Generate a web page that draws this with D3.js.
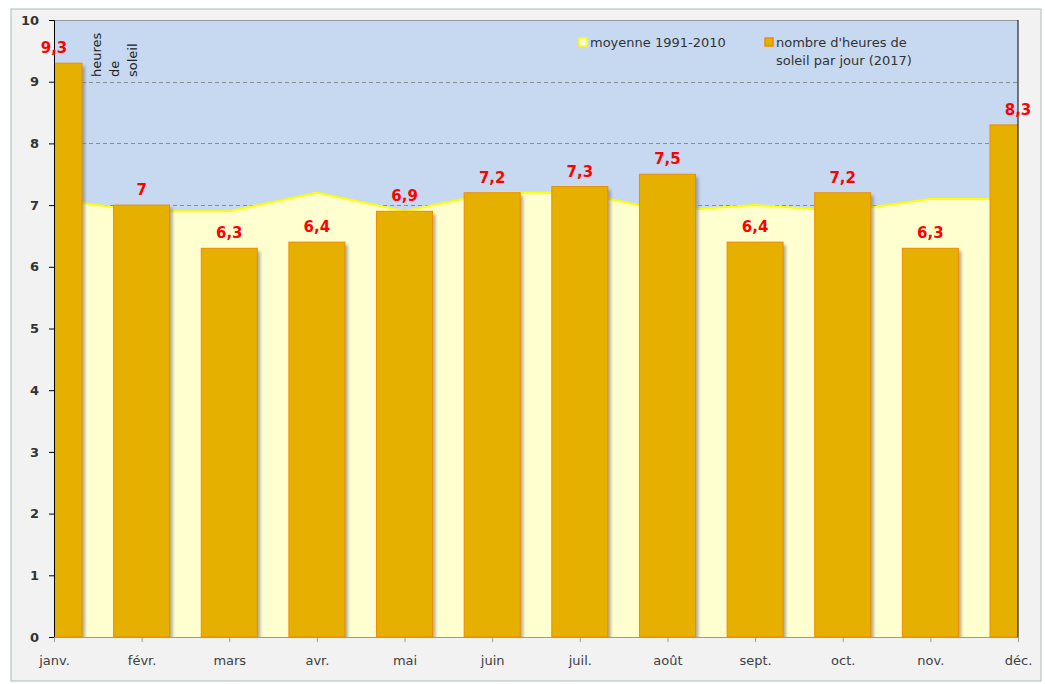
<!DOCTYPE html>
<html lang="fr">
<head>
<meta charset="utf-8">
<title>Ensoleillement 2017</title>
<script src="https://cdn.jsdelivr.net/npm/d3@7"></script>
<style>
  body { margin: 0; background: #fff; font-family: "DejaVu Sans", Verdana, sans-serif; }
</style>
</head>
<body>
<svg id="chart" width="1045" height="684"></svg>
<script>
// Données
var mois = ["janv.", "févr.", "mars", "avr.", "mai", "juin", "juil.", "août", "sept.", "oct.", "nov.", "déc."];
var heures2017 = [9.3, 7, 6.3, 6.4, 6.9, 7.2, 7.3, 7.5, 6.4, 7.2, 6.3, 8.3];
var moyenne = [7.1, 6.9, 6.9, 7.2, 6.9, 7.2, 7.2, 6.9, 7.0, 6.9, 7.1, 7.1];
var yTicks = [0, 1, 2, 3, 4, 5, 6, 7, 8, 9, 10];

var svg = d3.select("#chart");

// cadre extérieur
svg.append("rect")
  .attr("x", 11).attr("y", 9).attr("width", 1030).attr("height", 672)
  .attr("fill", "#f2f2f2").attr("stroke", "#a9bcbc").attr("stroke-width", 1);

var pLeft = 54, pRight = 1018, pTop = 20, pBottom = 637;

var x = d3.scalePoint().domain(mois).range([pLeft, pRight]);
var y = d3.scaleLinear().domain([0, 10]).range([pBottom, pTop]);
var barW = 56;

var defs = svg.append("defs");
defs.append("clipPath").attr("id", "plot")
  .append("rect").attr("x", pLeft).attr("y", pTop).attr("width", pRight - pLeft).attr("height", pBottom - pTop);
var blur = defs.append("filter").attr("id", "ombre").attr("x", "-20%").attr("y", "-20%").attr("width", "140%").attr("height", "140%");
blur.append("feGaussianBlur").attr("stdDeviation", 1.6);

// fond de la zone de traçage
svg.append("rect")
  .attr("x", pLeft).attr("y", pTop).attr("width", pRight - pLeft).attr("height", pBottom - pTop)
  .attr("fill", "#c6d9f1");
svg.append("line")
  .attr("x1", pLeft).attr("x2", pRight).attr("y1", pTop + 0.5).attr("y2", pTop + 0.5)
  .attr("stroke", "#9a9a9a");

// quadrillage
svg.append("g").selectAll("line")
  .data(yTicks.filter(function(d) { return d > 0 && d < 10; }))
  .enter().append("line")
  .attr("x1", pLeft).attr("x2", pRight)
  .attr("y1", function(d) { return Math.round(y(d)) + 0.5; })
  .attr("y2", function(d) { return Math.round(y(d)) + 0.5; })
  .attr("stroke", "#8c8c8c").attr("stroke-dasharray", "4,3");

var plot = svg.append("g").attr("clip-path", "url(#plot)");

// aire de la moyenne 1991-2010
var aire = d3.area()
  .x(function(d, i) { return x(mois[i]); })
  .y0(pBottom)
  .y1(function(d) { return y(d); });
var ligne = d3.line()
  .x(function(d, i) { return x(mois[i]); })
  .y(function(d) { return y(d); });
plot.append("path").datum(moyenne).attr("d", aire).attr("fill", "#ffffd0");
plot.append("path").datum(moyenne).attr("d", ligne)
  .attr("fill", "none").attr("stroke", "#ffff00").attr("stroke-width", 2);

// ombres des barres
plot.selectAll("rect.ombre")
  .data(heures2017)
  .enter().append("rect")
  .attr("class", "ombre")
  .attr("x", function(d, i) { return x(mois[i]) - barW / 2 + 3; })
  .attr("y", function(d) { return y(d) + 3; })
  .attr("width", barW)
  .attr("height", function(d) { return pBottom - y(d); })
  .attr("fill", "#6e6e6e").attr("opacity", 0.55)
  .attr("filter", "url(#ombre)");

// barres 2017
plot.selectAll("rect.barre")
  .data(heures2017)
  .enter().append("rect")
  .attr("class", "barre")
  .attr("x", function(d, i) { return x(mois[i]) - barW / 2; })
  .attr("y", function(d) { return y(d); })
  .attr("width", barW)
  .attr("height", function(d) { return pBottom - y(d); })
  .attr("fill", "#e6b000").attr("stroke", "#f08a00").attr("stroke-width", 1);

// axe Y
var yAxis = svg.append("g")
  .attr("transform", "translate(" + pLeft + ",0)")
  .call(d3.axisLeft(y).tickValues(yTicks).tickSize(5).tickPadding(10).tickFormat(d3.format("d")));
yAxis.select(".domain").attr("stroke", "#000");
yAxis.selectAll(".tick line").attr("stroke", "#000");
yAxis.selectAll("text").attr("font-size", 13).attr("font-family", "DejaVu Sans, Verdana, sans-serif")
  .attr("fill", "#333").attr("font-weight", "bold");

// bord droit
svg.append("line")
  .attr("x1", pRight).attr("x2", pRight).attr("y1", pTop).attr("y2", pBottom)
  .attr("stroke", "#000");

// axe X
var xAxis = svg.append("g")
  .attr("transform", "translate(0," + pBottom + ")")
  .call(d3.axisBottom(x).tickSize(5).tickPadding(14));
xAxis.select(".domain").attr("stroke", "#9a9a9a");
xAxis.selectAll(".tick line").attr("stroke", "#9a9a9a");
xAxis.selectAll("text").attr("font-size", 13).attr("font-family", "DejaVu Sans, Verdana, sans-serif")
  .attr("fill", "#404040");

// étiquettes de valeurs
svg.append("g").selectAll("text")
  .data(heures2017)
  .enter().append("text")
  .attr("x", function(d, i) { return x(mois[i]); })
  .attr("y", function(d) { return y(d) - 10; })
  .attr("text-anchor", "middle")
  .attr("font-size", 15).attr("font-weight", "bold").attr("fill", "#ff0000")
  .text(function(d) { return String(d).replace(".", ","); });

// titre de l'axe Y, vertical
var titre = ["heures", "de", "soleil"];
svg.append("g").selectAll("text")
  .data(titre)
  .enter().append("text")
  .attr("transform", function(d, i) { return "translate(" + (101 + i * 18) + ",77) rotate(-90)"; })
  .attr("font-size", 13).attr("fill", "#222")
  .text(function(d) { return d; });

// légende
var legende = svg.append("g").attr("font-size", 13).attr("fill", "#333");
legende.append("rect").attr("x", 579).attr("y", 38).attr("width", 8).attr("height", 8)
  .attr("fill", "#ffffd0").attr("stroke", "#ffff00").attr("stroke-width", 1.5);
legende.append("text").attr("x", 590).attr("y", 47).text("moyenne 1991-2010");
legende.append("rect").attr("x", 765).attr("y", 38).attr("width", 8).attr("height", 8)
  .attr("fill", "#e6b000").attr("stroke", "#f08a00").attr("stroke-width", 1.5);
legende.append("text").attr("x", 776).attr("y", 47).text("nombre d'heures de");
legende.append("text").attr("x", 776).attr("y", 65).text("soleil par jour (2017)");
</script>
</body>
</html>
